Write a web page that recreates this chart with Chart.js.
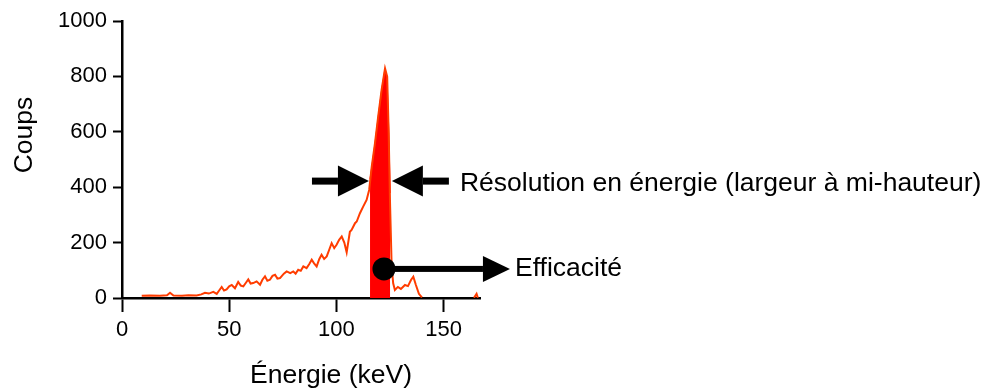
<!DOCTYPE html>
<html>
<head>
<meta charset="utf-8">
<script src="https://cdn.jsdelivr.net/npm/chart.js@4"></script>
<style>
    body { margin: 0; background: #fff; }
    #spectrum { display: block; }
</style>
</head>
<body>
<canvas id="spectrum" width="983" height="390"></canvas>
<script>
// Spectrum (keV / counts), null = no line drawn
const energy = [9.2, 13, 17.7, 21, 22.4, 24, 28, 31, 34.8, 37, 38.7, 40.5, 42.6, 44.2, 45.4, 46.5, 47.6, 48.8,
    50, 51.2, 52.7, 54.2, 55.4, 56.6, 57.8, 58.9, 60, 61.2, 62.8, 64.4, 65.5, 66.7, 67.8, 69, 70.2, 71.4,
    72.5, 73.7, 75.5, 76.8, 78.5, 79.9, 81, 82.2, 83.4, 84.6, 86.1, 87.3, 88.5, 89.6, 90.8, 92, 93.1,
    94.3, 95.5, 96.7, 97.8, 99, 100.1, 101.3, 102.5, 103.7, 104.8, 106.3, 107.1, 108.7, 109.5,
    111, 112.5, 114.1, 115.3, 116.5, 118, 119.5, 121.1, 122.7, 123.7, 124.4, 125, 125.8, 126.5,
    127.3, 128.7, 130.1, 132, 133.4, 134.8, 135.9, 137.1, 138.5, 139.9, 150, 164.2, 165.4, 166];
const counts = [8, 9, 8, 10, 19, 9, 8, 10, 9, 13, 19, 16, 22, 15, 28, 40, 27, 31,
    42, 47, 35, 58, 45, 42, 55, 67, 52, 54, 60, 48, 66, 78, 62, 66, 80, 84,
    70, 72, 88, 96, 90, 96, 88, 102, 98, 114, 108, 122, 138, 125, 114, 140, 156,
    141, 150, 175, 198, 180, 192, 210, 222, 200, 165, 239, 246, 270, 276,
    306, 330, 354, 390, 474, 558, 655, 751, 829, 799, 596, 354, 113, 53,
    29, 40, 33, 47, 43, 65, 77, 47, 15, 2, null, 1, 15, 1];

// Photopeak area (shaded)
const peakEnergy = [115.7, 116.5, 118, 119.5, 121.1, 122.7, 123.7, 124.5, 125.1];
const peakCounts = [430, 474, 558, 655, 751, 829, 780, 596, 379];

const xTicks = [0, 50, 100, 150];
const yTicks = [0, 200, 400, 600, 800, 1000];

const FONT = "'Liberation Sans', Arial, Helvetica, sans-serif";

// Annotation anchors, in data units
const fwhmLevel = 422;
const fwhmLeft = 115.2;
const fwhmRight = 125.9;
const effEnergy = 122.2;
const effCounts = 105;

function arrow(ctx, tipX, y, dir, headLen, headHalf, shaftLen, shaftW) {
    // dir = +1 points right, -1 points left
    const base = tipX - dir * headLen;
    ctx.fillRect(Math.min(base, base - dir * shaftLen), y - shaftW / 2, shaftLen, shaftW);
    ctx.beginPath();
    ctx.moveTo(tipX, y);
    ctx.lineTo(base, y - headHalf);
    ctx.lineTo(base, y + headHalf);
    ctx.closePath();
    ctx.fill();
}

const annotations = {
    id: 'annotations',
    afterDraw(chart) {
        const { ctx, chartArea, scales: { x, y } } = chart;
        ctx.save();
        ctx.fillStyle = '#000';

        // FWHM arrows
        const yr = y.getPixelForValue(fwhmLevel);
        arrow(ctx, x.getPixelForValue(fwhmLeft), yr, 1, 31, 15.5, 26, 7);
        const rTip = x.getPixelForValue(fwhmRight);
        arrow(ctx, rTip, yr, -1, 31, 15.5, 26, 7);

        ctx.font = '26.5px ' + FONT;
        ctx.textBaseline = 'middle';
        ctx.textAlign = 'left';
        ctx.fillText('Résolution en énergie (largeur à mi-hauteur)', rTip + 68, yr + 3);

        // efficiency marker
        const cx = x.getPixelForValue(effEnergy);
        const cy = y.getPixelForValue(effCounts);
        ctx.beginPath();
        ctx.arc(cx, cy, 11.5, 0, Math.PI * 2);
        ctx.fill();
        const eTip = cx + 126;
        arrow(ctx, eTip, cy, 1, 27, 13, 100, 6);
        ctx.fillText('Efficacité', eTip + 5, cy);

        // axis titles
        ctx.textAlign = 'center';
        ctx.fillText('Énergie (keV)', (chartArea.left + chartArea.right) / 2 + 30, 376);
        ctx.translate(25, 135);
        ctx.rotate(-Math.PI / 2);
        ctx.fillText('Coups', 0, 0);
        ctx.restore();
    }
};

new Chart(document.getElementById('spectrum'), {
    type: 'line',
    data: {
        datasets: [{
            data: energy.map((e, i) => ({ x: e, y: counts[i] })),
            borderColor: '#ff3c00',
            borderWidth: 2,
            pointRadius: 0,
            tension: 0,
            spanGaps: false,
            fill: false,
            order: 0
        }, {
            data: peakEnergy.map((e, i) => ({ x: e, y: peakCounts[i] })),
            borderColor: '#ff0000',
            borderWidth: 1,
            backgroundColor: '#ff0000',
            pointRadius: 0,
            tension: 0,
            fill: 'origin',
            order: 1
        }]
    },
    options: {
        responsive: false,
        animation: false,
        events: [],
        layout: { padding: { top: 21, right: 503, bottom: 0, left: 0 } },
        plugins: {
            legend: { display: false },
            tooltip: { enabled: false }
        },
        scales: {
            x: {
                type: 'linear',
                min: 0,
                max: 167,
                afterBuildTicks: (scale) => { scale.ticks = xTicks.map(v => ({ value: v })); },
                afterFit: (scale) => { scale.height = 92; },
                border: { color: '#000', width: 2.5 },
                grid: { drawOnChartArea: false, tickLength: 14, tickWidth: 2, tickColor: '#000' },
                ticks: {
                    color: '#000', font: { size: 22, family: FONT }, padding: 5, maxRotation: 0,
                    callback: (v) => String(v)
                }
            },
            y: {
                min: 0,
                max: 1000,
                afterBuildTicks: (scale) => { scale.ticks = yTicks.map(v => ({ value: v })); },
                afterFit: (scale) => { scale.width = 122; },
                border: { color: '#000', width: 2.5 },
                grid: { drawOnChartArea: false, tickLength: 9, tickWidth: 2, tickColor: '#000' },
                ticks: {
                    color: '#000', font: { size: 22, family: FONT }, padding: 6,
                    callback: (v) => String(v)
                }
            }
        }
    },
    plugins: [annotations]
});
</script>
</body>
</html>
